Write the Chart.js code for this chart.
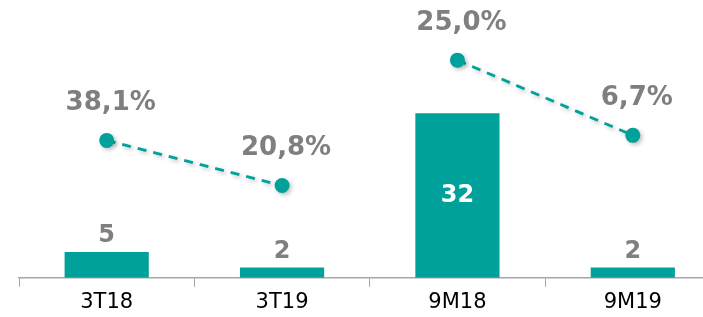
<!DOCTYPE html>
<html>
<head>
<meta charset="utf-8">
<script src="https://cdn.jsdelivr.net/npm/chart.js@4"></script>
<style>
  html, body { margin: 0; padding: 0; background: #fff; overflow: hidden; }
  #wrap { width: 703px; height: 317px; overflow: hidden; }
</style>
</head>
<body>
<div id="wrap"><canvas id="chart" width="728" height="318"></canvas></div>
<script>
// data
const categories = ['3T18', '3T19', '9M18', '9M19'];
const barValues = [5, 2, 32, 2];
const pctQuarter = [38.1, 20.8, null, null];   // 3T18 -> 3T19
const pctNineMonths = [null, null, 25.0, 6.7]; // 9M18 -> 9M19

const teal = '#00A19B';
const grey = '#7F7F7F';

const fmtPct = v => v.toFixed(1).replace('.', ',') + '%';

// draws value labels (no datalabels plugin available offline)
const valueLabels = {
    id: 'valueLabels',
    afterDatasetsDraw(chart) {
        const ctx = chart.ctx;
        ctx.save();
        ctx.textAlign = 'center';
        ctx.textBaseline = 'middle';
        chart.data.datasets.forEach((ds, i) => {
            const meta = chart.getDatasetMeta(i);
            meta.data.forEach((el, j) => {
                const v = ds.data[j];
                if (v === null || v === undefined) return;
                if (ds.type === 'bar') {
                    const h = el.base - el.y;
                    ctx.font = 'bold 24px "DejaVu Sans"';
                    if (h > 40) {
                        ctx.fillStyle = '#fff';
                        ctx.fillText(String(v), el.x, (el.y + el.base) / 2);
                    } else {
                        ctx.fillStyle = grey;
                        ctx.fillText(String(v), el.x, el.y - 16);
                    }
                } else {
                    ctx.font = 'bold 26px "DejaVu Sans"';
                    ctx.fillStyle = grey;
                    ctx.fillText(fmtPct(v), el.x + 4, el.y - 37);
                }
            });
        });
        ctx.restore();
    }
};

// soft shadow under the line series
const lineShadow = {
    id: 'lineShadow',
    beforeDatasetDraw(chart, args) {
        if (args.meta.type !== 'line') return;
        const ctx = chart.ctx;
        ctx.save();
        ctx.shadowColor = 'rgba(0,0,0,0.25)';
        ctx.shadowBlur = 4;
        ctx.shadowOffsetX = 2;
        ctx.shadowOffsetY = 2;
    },
    afterDatasetDraw(chart, args) {
        if (args.meta.type !== 'line') return;
        chart.ctx.restore();
    }
};

const lineStyle = {
    type: 'line',
    borderColor: teal,
    backgroundColor: teal,
    borderWidth: 2.8,
    borderDash: [9, 7],
    pointRadius: 7.5,
    pointHoverRadius: 7.5,
    pointBackgroundColor: teal,
    pointBorderWidth: 0,
    spanGaps: false,
    fill: false,
    order: 0
};

new Chart(document.getElementById('chart'), {
    data: {
        labels: categories,
        datasets: [
            Object.assign({}, lineStyle, { data: pctQuarter, yAxisID: 'yA' }),
            Object.assign({}, lineStyle, { data: pctNineMonths, yAxisID: 'yB' }),
            {
                type: 'bar',
                data: barValues,
                backgroundColor: teal,
                categoryPercentage: 1,
                barPercentage: 0.48,
                yAxisID: 'y',
                order: 1
            }
        ]
    },
    options: {
        responsive: false,
        animation: false,
        devicePixelRatio: 1,
        layout: { padding: { left: 19, right: 0, top: 10, bottom: 0 } },
        plugins: { legend: { display: false }, tooltip: { enabled: false } },
        scales: {
            x: {
                offset: true,
                grid: { offset: true, drawOnChartArea: false, drawTicks: true, tickLength: 9, color: '#A6A6A6' },
                border: { color: '#A6A6A6', width: 1.5 },
                ticks: { color: '#000', font: { family: '"DejaVu Sans"', size: 21 }, padding: 3 }
            },
            y: { display: false, min: 0, max: 52.1 },
            yA: { display: false, min: -14.57, max: 88.1 },
            yB: { display: false, min: -27.95, max: 37.2 }
        }
    },
    plugins: [valueLabels, lineShadow]
});
</script>
</body>
</html>
